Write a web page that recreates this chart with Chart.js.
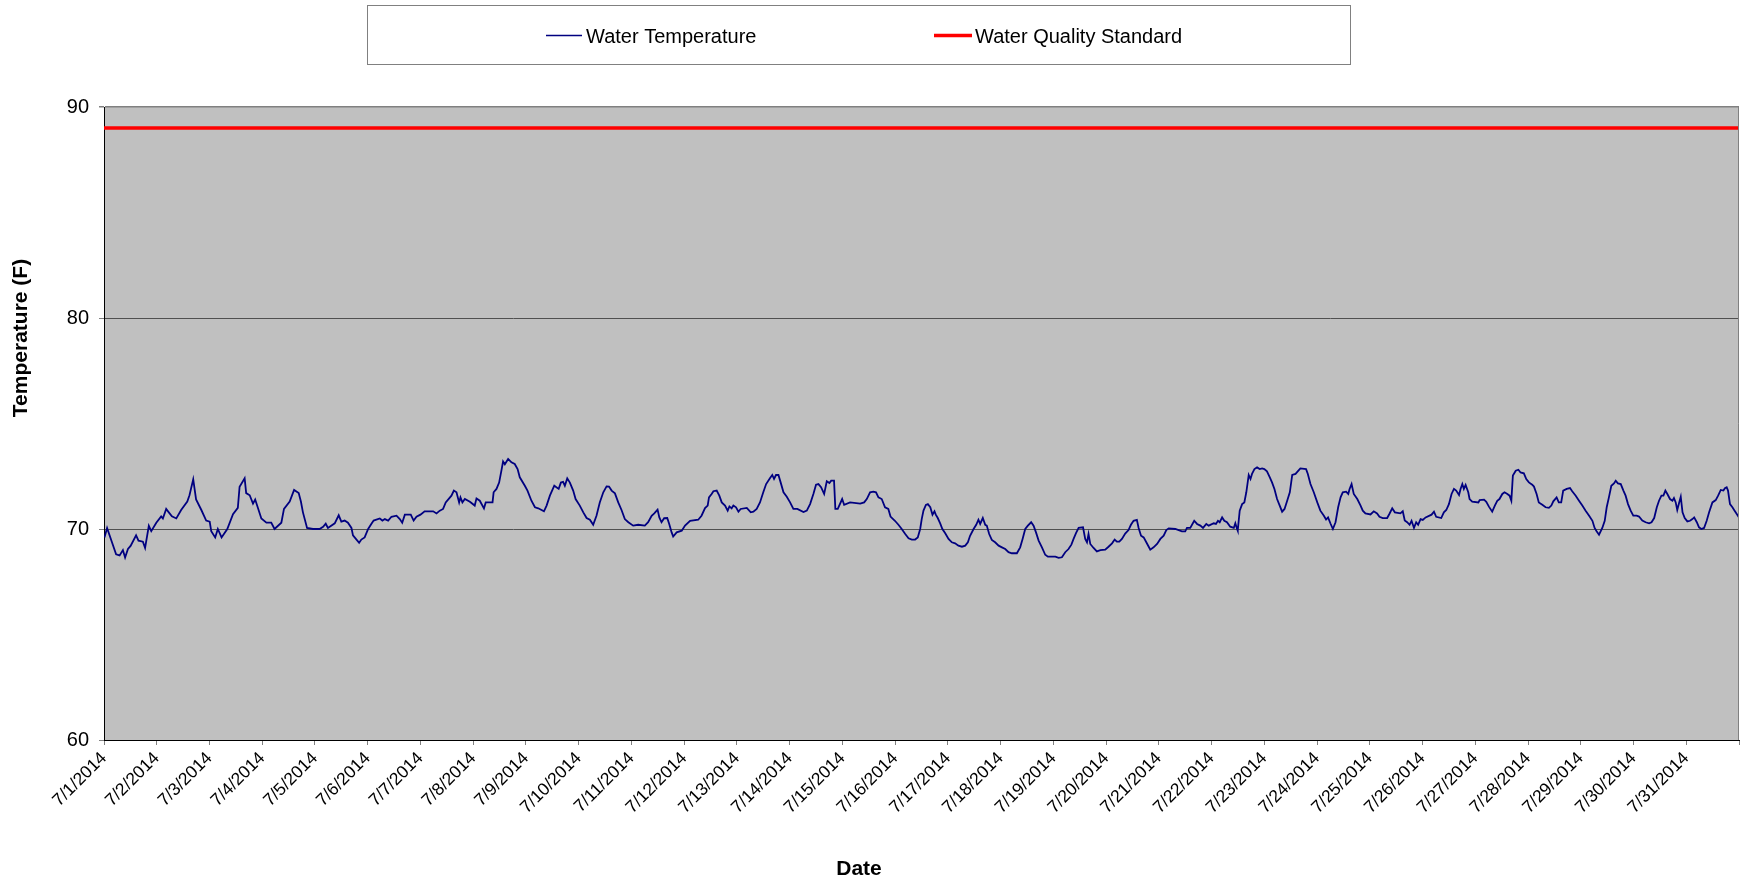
<!DOCTYPE html>
<html><head><meta charset="utf-8">
<style>html,body{margin:0;padding:0;background:#fff;}#wrap{width:1754px;height:883px;position:relative;}</style>
<script src="https://cdn.jsdelivr.net/npm/chart.js@4.4.1/dist/chart.umd.min.js"></script>
</head><body><div id="wrap"><canvas id="c" width="1754" height="883"></canvas></div>
<script>
const dateLabels = ['7/1/2014','7/2/2014','7/3/2014','7/4/2014','7/5/2014','7/6/2014','7/7/2014','7/8/2014','7/9/2014','7/10/2014','7/11/2014','7/12/2014','7/13/2014','7/14/2014','7/15/2014','7/16/2014','7/17/2014','7/18/2014','7/19/2014','7/20/2014','7/21/2014','7/22/2014','7/23/2014','7/24/2014','7/25/2014','7/26/2014','7/27/2014','7/28/2014','7/29/2014','7/30/2014','7/31/2014'];
const yTickValues = [60, 70, 80, 90];
const seriesNames = ['Water Temperature', 'Water Quality Standard'];
const xTitle = 'Date';
const yTitle = 'Temperature (F)';
// hours since 7/1/2014 00:00
const hours = [0.2,1.4,5.5,7.1,8.6,9.6,10.9,12.1,14.6,15.7,17.7,18.7,20.4,21.5,23.8,26.0,26.8,28.3,29.4,30.9,32.9,35.1,37.9,38.9,40.6,41.9,44.3,46.5,48.1,48.8,50.6,51.8,53.5,56.1,58.7,60.9,61.7,64.0,64.7,66.3,67.8,68.8,71.6,73.9,76.1,77.6,80.7,81.9,84.5,86.5,88.6,89.6,90.5,92.4,95.1,98.1,99.7,100.9,101.9,105.0,106.8,108.0,109.5,111.0,112.6,113.3,114.9,116.1,117.1,118.6,120.2,121.7,122.7,125.5,126.7,127.8,129.3,130.8,133.1,134.6,135.7,136.9,139.6,140.9,142.2,144.0,145.9,149.8,151.3,152.8,154.3,155.5,158.1,159.2,160.4,161.6,162.2,163.1,164.2,166.5,168.7,169.5,171.0,172.9,173.7,176.8,177.3,178.6,179.8,180.9,181.6,182.4,183.9,185.4,186.9,188.2,189.2,191.5,192.7,194.5,196.1,197.6,200.2,201.4,202.9,204.9,206.9,207.9,208.9,209.7,210.8,212.0,213.5,214.6,216.5,218.1,219.6,221.1,222.6,224.1,225.6,227.2,228.7,229.8,231.0,232.5,234.0,235.5,237.0,238.6,240.8,243.1,246.1,247.6,249.2,250.4,251.9,252.7,253.7,254.9,256.3,257.2,258.3,259.0,260.6,262.9,264.4,266.7,270.4,271.9,273.5,274.7,275.3,276.5,277.3,278.8,280.0,281.1,282.6,283.8,284.6,285.6,286.4,287.6,288.7,289.7,292.5,294.3,295.5,297.0,298.5,300.0,301.3,303.1,304.1,304.9,305.8,306.9,307.9,309.2,310.7,312.2,313.7,315.5,318.3,319.8,321.3,322.8,324.0,325.1,326.3,327.7,328.9,330.1,330.9,332.2,332.8,333.9,335.9,336.8,339.5,344.1,345.9,347.1,348.6,350.1,351.3,352.4,353.9,355.4,356.9,357.9,359.9,361.5,363.0,364.6,366.1,367.6,369.1,370.3,371.4,372.1,372.9,374.0,374.9,376.0,377.0,377.9,378.5,379.4,380.5,381.5,382.8,384.3,385.8,387.3,388.8,390.4,391.9,393.1,394.1,395.7,396.9,397.9,398.7,399.9,401.0,401.7,402.8,404.0,405.5,407.1,408.6,410.1,411.6,413.1,415.4,416.9,418.0,419.2,420.4,421.9,423.0,424.1,425.3,426.8,428.3,429.5,432.9,434.4,435.9,437.4,438.9,440.2,441.2,442.3,443.5,445.5,446.5,447.3,448.0,448.8,450.3,451.8,453.4,455.6,457.1,458.7,459.9,460.9,462.0,463.2,464.7,466.2,467.3,468.5,470.0,470.8,471.9,473.1,474.3,475.4,476.1,477.6,479.2,480.7,482.2,483.4,484.5,487.5,490.5,492.0,492.8,494.3,496.1,497.4,498.9,500.1,501.6,502.7,505.0,506.0,506.9,507.7,508.8,509.8,511.0,512.5,514.1,514.8,515.6,515.9,516.8,517.9,518.9,519.8,520.9,521.7,522.4,523.5,524.7,525.9,527.0,528.0,529.2,530.5,531.5,532.6,533.8,535.0,536.1,537.2,538.4,539.6,540.7,542.2,543.2,544.4,547.0,547.8,549.0,550.5,552.1,553.5,555.1,556.1,557.0,558.1,559.2,560.4,561.6,562.7,563.7,565.2,566.2,566.8,567.7,568.7,570.3,571.8,572.8,574.0,576.3,577.8,579.3,580.4,581.9,583.9,584.9,586.2,587.4,589.9,591.0,591.9,593.0,594.1,595.0,596.1,597.1,598.0,599.1,600.1,601.4,604.1,605.2,606.2,608.5,609.7,610.8,612.0,613.2,614.3,615.3,616.6,617.3,618.1,618.8,619.6,620.8,621.4,622.6,625.4,626.0,628.0,629.0,630.2,631.7,632.9,634.0,635.0,636.3,637.3,638.6,639.6,640.4,641.1,642.4,643.6,644.6,646.1,647.2,648.4,649.9,650.7,651.9,652.9,654.5,656.0,657.5,658.6,659.5,661.0,662.0,663.1,664.0,665.6,667.1,668.1,669.7,671.2,672.7,674.2,675.8,677.3,678.3,679.2,680.3,681.8,682.9,683.8,684.8,685.9,687.1,687.9,688.9,690.2,691.4,692.4,693.5,694.7,695.9,697.4,698.5,700.0,701.5,703.1,704.2,705.4,706.6,707.6,708.7,709.6,710.5,711.4,712.6,713.7,714.4,715.2,715.9,716.7,717.5,718.3,719.3,720.5,721.7,722.8,723.6,724.8,725.8,726.9,728.1,729.3,730.4,731.9,733.4,734.5,735.7,736.9,737.6,738.4,739.0,739.9,741.0,742.0,743.2,744.0];
const temps = [69.6,70.05,68.8,68.75,69.0,68.65,69.05,69.2,69.7,69.45,69.4,69.1,70.15,69.9,70.3,70.6,70.5,70.95,70.8,70.6,70.5,70.9,71.3,71.6,72.35,71.4,70.9,70.4,70.35,69.9,69.6,70.0,69.6,70.0,70.7,71.0,72.0,72.4,71.7,71.6,71.2,71.4,70.5,70.3,70.3,70.0,70.3,70.95,71.3,71.85,71.7,71.3,70.8,70.05,70.0,70.0,70.1,70.25,70.05,70.27,70.65,70.35,70.4,70.3,70.05,69.7,69.5,69.35,69.5,69.6,70.0,70.25,70.4,70.5,70.4,70.47,70.4,70.58,70.63,70.47,70.3,70.68,70.68,70.4,70.58,70.68,70.84,70.84,70.74,70.87,70.95,71.26,71.58,71.82,71.74,71.26,71.5,71.26,71.42,71.29,71.11,71.45,71.34,70.98,71.26,71.26,71.74,71.9,72.2,72.8,73.2,73.07,73.32,73.16,73.08,72.84,72.45,72.05,71.82,71.34,71.03,70.98,70.84,71.11,71.58,72.05,71.9,72.2,72.23,72.05,72.4,72.2,71.82,71.42,71.11,70.79,70.52,70.44,70.2,70.63,71.26,71.74,72.02,72.01,71.82,71.69,71.26,70.9,70.47,70.32,70.16,70.2,70.16,70.32,70.63,70.74,70.92,70.55,70.32,70.51,70.52,70.24,69.84,69.64,69.84,69.92,70.16,70.39,70.44,70.63,70.99,71.11,71.5,71.66,71.79,71.82,71.58,71.26,71.11,70.87,71.07,70.98,71.11,71.03,70.82,70.95,71.0,70.79,70.82,70.95,71.26,71.74,72.13,72.42,72.56,72.37,72.56,72.56,72.21,71.74,71.53,71.26,70.95,70.95,70.8,70.87,71.18,71.66,72.1,72.13,71.98,71.66,72.26,72.18,72.29,72.29,70.95,70.95,71.42,71.15,71.26,71.2,71.26,71.42,71.74,71.77,71.74,71.5,71.42,71.03,70.95,70.59,70.39,70.2,70.0,69.76,69.56,69.5,69.5,69.6,70.0,70.47,70.87,71.14,71.18,71.03,70.68,70.84,70.68,70.52,70.27,70.0,69.8,69.53,69.37,69.32,69.21,69.16,69.21,69.37,69.68,70.0,70.2,70.44,70.24,70.52,70.2,70.16,69.76,69.48,69.37,69.21,69.13,69.05,68.9,68.85,68.85,69.13,69.53,70.0,70.16,70.32,70.16,69.84,69.45,69.13,68.78,68.69,68.69,68.63,68.66,68.9,69.05,69.26,69.53,69.8,70.05,70.08,69.53,69.37,69.76,69.29,69.1,68.94,69.0,69.02,69.16,69.32,69.5,69.4,69.4,69.53,69.78,69.95,70.2,70.39,70.43,70.05,69.68,69.6,69.37,69.16,69.02,69.13,69.29,69.53,69.68,69.95,70.03,70.0,69.89,69.89,70.05,70.05,70.39,70.24,70.16,70.05,70.24,70.16,70.27,70.24,70.39,70.32,70.55,70.39,70.32,70.11,70.05,70.27,70.0,69.92,70.87,71.18,71.26,71.74,72.56,72.37,72.61,72.84,72.92,72.84,72.87,72.84,72.73,72.45,72.21,71.9,71.42,71.11,70.82,70.95,71.34,71.74,72.56,72.61,72.73,72.87,72.84,72.61,72.13,71.74,71.26,70.87,70.63,70.45,70.55,70.26,70.0,70.32,71.03,71.5,71.74,71.77,71.66,71.9,72.13,71.66,71.42,71.11,70.87,70.74,70.69,70.84,70.74,70.58,70.52,70.52,70.71,70.98,70.79,70.74,70.84,70.4,70.32,70.2,70.39,70.05,70.32,70.2,70.47,70.43,70.55,70.68,70.82,70.58,70.52,70.79,70.9,71.18,71.66,71.9,71.82,71.61,71.9,72.13,71.9,72.09,71.74,71.42,71.3,71.26,71.37,71.39,71.29,71.06,70.82,71.11,71.34,71.42,71.66,71.74,71.66,71.58,71.34,72.53,72.76,72.81,72.68,72.64,72.37,72.21,72.1,72.01,71.66,71.26,71.15,71.03,71.0,71.11,71.31,71.5,71.26,71.26,71.82,71.9,71.94,71.79,71.58,71.34,71.11,70.87,70.63,70.39,70.05,69.89,69.73,70.05,70.39,71.03,71.5,72.05,72.16,72.29,72.16,72.13,71.82,71.58,71.18,70.87,70.63,70.63,70.59,70.4,70.32,70.27,70.32,70.52,71.03,71.34,71.58,71.58,71.82,71.66,71.42,71.34,71.47,71.26,70.9,71.22,71.53,70.79,70.52,70.36,70.39,70.47,70.55,70.32,70.08,70.0,70.05,70.39,70.79,71.26,71.37,71.58,71.85,71.82,71.93,71.98,71.82,71.18,71.03,70.87,70.68,70.55];
const standardHours = [0, 744];
const standardTemps = [89, 89];

const FONT = '"Liberation Sans", Arial, sans-serif';

const decorPlugin = {
  id: 'decor',
  beforeDraw(chart) {
    const {ctx, chartArea: a} = chart;
    ctx.save();
    ctx.fillStyle = '#ffffff';
    ctx.fillRect(0, 0, chart.width, chart.height);
    ctx.fillStyle = '#c0c0c0';
    ctx.fillRect(a.left, a.top, a.right - a.left, a.bottom - a.top);
    ctx.restore();
  },
  afterDraw(chart) {
    const {ctx, chartArea: a} = chart;
    ctx.save();
    // right border
    ctx.strokeStyle = '#808080';
    ctx.lineWidth = 1;
    ctx.beginPath();
    ctx.moveTo(a.right - 0.5, a.top);
    ctx.lineTo(a.right - 0.5, a.bottom);
    ctx.stroke();
    // legend box
    ctx.strokeStyle = '#808080';
    ctx.strokeRect(367.5, 5.5, 983, 59);
    const ds = chart.data.datasets;
    ctx.font = '20px ' + FONT;
    ctx.textBaseline = 'middle';
    ctx.textAlign = 'left';
    ctx.fillStyle = '#000';
    const items = [{x0: 546, x1: 582, tx: 586}, {x0: 934, x1: 972, tx: 975}];
    items.forEach((it, i) => {
      ctx.strokeStyle = ds[i].borderColor;
      ctx.lineWidth = i === 0 ? 1.5 : 3.5;
      ctx.beginPath();
      ctx.moveTo(it.x0, 35.5);
      ctx.lineTo(it.x1, 35.5);
      ctx.stroke();
      ctx.fillText(ds[i].label, it.tx, 37);
    });
    // axis titles
    ctx.font = 'bold 21px ' + FONT;
    ctx.textAlign = 'center';
    ctx.fillText(xTitle, 859, 869);
    ctx.translate(21, 338);
    ctx.rotate(-Math.PI / 2);
    ctx.fillText(yTitle, 0, 0);
    ctx.restore();
  }
};

new Chart(document.getElementById('c'), {
  type: 'line',
  data: {
    datasets: [
      {label: seriesNames[0], data: hours.map((h, i) => ({x: h, y: temps[i]})), borderColor: '#000080', borderWidth: 1.8, pointRadius: 0, tension: 0, fill: false},
      {label: seriesNames[1], data: standardHours.map((h, i) => ({x: h, y: standardTemps[i]})), borderColor: '#ff0000', borderWidth: 3.5, pointRadius: 0, tension: 0, fill: false}
    ]
  },
  options: {
    responsive: false,
    animation: false,
    devicePixelRatio: 1,
    layout: {padding: {left: 0, right: 15, top: 107, bottom: 0}},
    plugins: {legend: {display: false}, tooltip: {enabled: false}, title: {display: false}},
    scales: {
      x: {
        type: 'linear', min: 0, max: 744,
        afterBuildTicks: (s) => { s.ticks = dateLabels.map((_, i) => ({value: i * 24})).concat([{value: 744}]); },
        afterFit: (s) => { s.height = 143; s.paddingRight = 0; s.paddingLeft = 0; },
        ticks: {
          autoSkip: false, maxRotation: 45, minRotation: 45, padding: 3, color: '#000',
          font: {family: FONT, size: 17.5},
          callback: (v) => { const i = Math.round(v / 24); return i < dateLabels.length ? dateLabels[i] : ''; }
        },
        grid: {drawOnChartArea: false, drawTicks: true, tickLength: 5, tickColor: '#808080'},
        border: {color: '#000', width: 1}
      },
      y: {
        min: 60, max: 90,
        afterBuildTicks: (s) => { s.ticks = yTickValues.map(v => ({value: v})); },
        afterFit: (s) => { s.width = 104; s.paddingTop = 0; s.paddingBottom = 0; },
        ticks: {padding: 10, color: '#000', font: {family: FONT, size: 20}},
        grid: {
          color: (c) => (c.tick && c.tick.value === 90) ? '#808080' : '#505050',
          lineWidth: (c) => (c.tick && c.tick.value === 90) ? 1.5 : 1,
          tickLength: 5, tickColor: '#808080'
        },
        border: {color: '#000', width: 1}
      }
    }
  },
  plugins: [decorPlugin]
});
</script>
</body></html>
